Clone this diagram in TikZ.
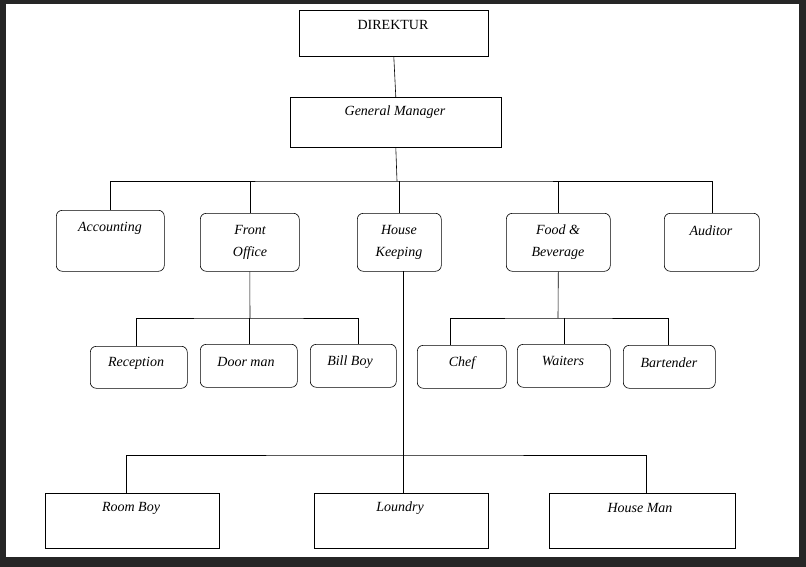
\documentclass[tikz,border=0pt]{standalone}
\usepackage{fontspec}
\setmainfont{Liberation Serif}
\begin{document}
\begin{tikzpicture}[x=1pt,y=-1pt,
  box/.style={draw,line width=0.6pt,anchor=north west,inner sep=0pt},
  rbox/.style={box,rounded corners=6pt},
  lbl/.style={font=\itshape\fontsize{14}{22}\selectfont,align=center},
  ln/.style={line width=0.6pt}]
\fill[black!85] (0,0) rectangle (806,567);
\fill[white] (6,4) rectangle (799,557);
\useasboundingbox (0,0) rectangle (806,567);
\node[box,minimum width=189,minimum height=46] (dir) at (299,10) {};
\node[font=\fontsize{14}{16}\selectfont] (dirt) at (393,25) {DIREKTUR};
\node[box,minimum width=211,minimum height=50] (gm) at (290,97) {};
\node[lbl] (gmt) at (395,112) {General Manager};
% row 1
\node[rbox,minimum width=108,minimum height=61] (acc) at (56,210) {};
\node[lbl] (acct) at (110,228) {Accounting};
\node[rbox,minimum width=99,minimum height=58] (fo) at (200,213) {};
\node[lbl] (fot) at (250,242) {Front\\Office};
\node[rbox,minimum width=84,minimum height=58] (hk) at (357,213) {};
\node[lbl] (hkt) at (399,242) {House\\Keeping};
\node[rbox,minimum width=104,minimum height=58] (fb) at (506,213) {};
\node[lbl] (fbt) at (558,242) {Food \&\\Beverage};
\node[rbox,minimum width=95,minimum height=58] (aud) at (664,213) {};
\node[lbl] (audt) at (711,231) {Auditor};
% row 2
\node[rbox,minimum width=97,minimum height=42] (rec) at (90,346) {};
\node[lbl] (rect) at (136,363) {Reception};
\node[rbox,minimum width=97,minimum height=43] (dm) at (200,344) {};
\node[lbl] (dmt) at (246,362) {Door man};
\node[rbox,minimum width=86,minimum height=43] (bb) at (310,344) {};
\node[lbl] (bbt) at (350,362) {Bill Boy};
\node[rbox,minimum width=89,minimum height=43] (chef) at (417,345) {};
\node[lbl] (cheft) at (462,363) {Chef};
\node[rbox,minimum width=93,minimum height=43] (wai) at (517,344) {};
\node[lbl] (wait) at (563,361) {Waiters};
\node[rbox,minimum width=92,minimum height=43] (bar) at (623,345) {};
\node[lbl] (bart) at (669,363) {Bartender};
% row 3
\node[box,minimum width=174,minimum height=55] (rb) at (45,493) {};
\node[lbl] (rbt) at (131,508) {Room Boy};
\node[box,minimum width=174,minimum height=55] (lo) at (314,493) {};
\node[lbl] (lot) at (400,508) {Loundry};
\node[box,minimum width=186,minimum height=55] (hm) at (549,493) {};
\node[lbl] (hmt) at (640,508) {House Man};
% connectors
\draw[ln] (dir.south) -- (gm.north);
\coordinate (b1) at (397,181);
\draw[ln] (gm.south) -- (b1);
\draw[ln] (acc.north) |- (b1) -| (aud.north);
\draw[ln] (fo.north) -- (fo.north |- b1);
\draw[ln] (hk.north) -- (hk.north |- b1);
\draw[ln] (fb.north) -- (fb.north |- b1);
\coordinate (b2) at (250,318);
\draw[ln] (fo.south) -- (b2);
\coordinate (r1) at (136,346);
\coordinate (r2) at (358,344);
\draw[ln] (r1) |- (b2) -| (r2);
\draw[ln] (dm.north) -- (dm.north |- b2);
\coordinate (b3) at (558,318);
\draw[ln] (fb.south) -- (b3);
\coordinate (c1) at (450,345);
\coordinate (c2) at (668,345);
\draw[ln] (c1) |- (b3) -| (c2);
\draw[ln] (wai.north) -- (wai.north |- b3);
\coordinate (b4) at (403,455);
\coordinate (h0) at (403,271);
\coordinate (h1) at (126,493);
\coordinate (h2) at (646,493);
\draw[ln] (h0) -- (b4);
\draw[ln] (h1) |- (b4) -| (h2);
\draw[ln] (b4) -- (lo.north -| b4);
\end{tikzpicture}
\end{document}
